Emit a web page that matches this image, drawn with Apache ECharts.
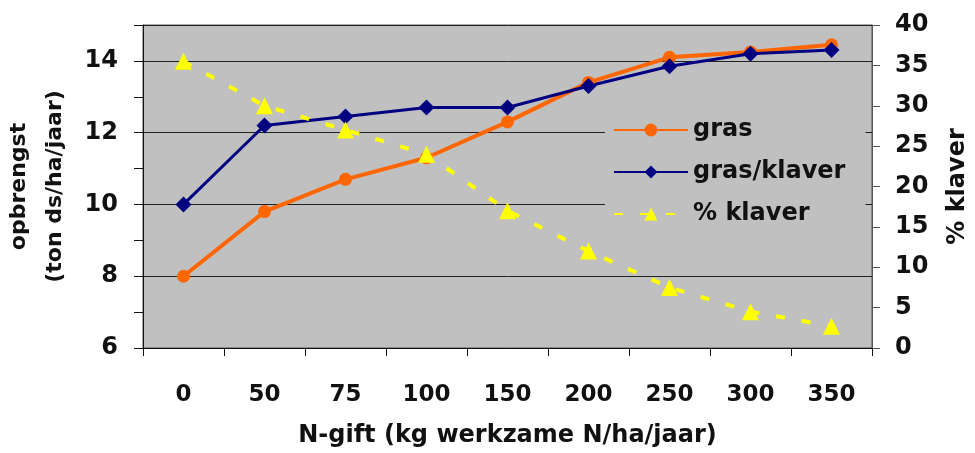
<!DOCTYPE html>
<html>
<head>
<meta charset="utf-8">
<script src="https://cdn.jsdelivr.net/npm/echarts@6/dist/echarts.min.js"></script>
<style>
  html, body { margin: 0; padding: 0; background: #fff; }
  #chart { width: 975px; height: 453px; }
</style>
</head>
<body>
<div id="chart"></div>
<script>
const categories = ["0", "50", "75", "100", "150", "200", "250", "300", "350"];
const gras = [8.0, 9.8, 10.7, 11.3, 12.3, 13.4, 14.1, 14.25, 14.45];
const grasKlaver = [10.0, 12.2, 12.45, 12.7, 12.7, 13.3, 13.85, 14.2, 14.3];
const pctKlaver = [35.5, 30, 27, 24, 17, 12, 7.5, 4.5, 2.7];

const font = "DejaVu Sans, Verdana, sans-serif";
const labelStyle = { fontFamily: font, fontWeight: "bold", fontSize: 24, color: "#111" };

const chart = echarts.init(document.getElementById("chart"));

chart.setOption({
  animation: false,
  grid: {
    left: 143,
    right: 103,
    top: 25,
    bottom: 105,
    containLabel: false,
    outerBoundsMode: "none",
    show: true,
    backgroundColor: "#c0c0c0",
    borderColor: "#555",
    borderWidth: 1,
  },
  legend: {
    orient: "vertical",
    left: 605,
    top: 106,
    padding: [12, 20, 12, 8],
    backgroundColor: "#c0c0c0",
    itemWidth: 74,
    itemHeight: 16,
    itemGap: 18,
    z: 10,
    textStyle: { ...labelStyle, fontSize: 24, lineHeight: 24 },
    data: ["gras", "gras/klaver", "% klaver"],
  },
  xAxis: {
    type: "category",
    data: categories,
    boundaryGap: true,
    name: "N-gift (kg werkzame N/ha/jaar)",
    nameLocation: "middle",
    nameGap: 76,
    nameTextStyle: labelStyle,
    axisLine: { lineStyle: { color: "#111", width: 1 } },
    axisTick: { show: true, length: 8, lineStyle: { color: "#111" } },
    axisLabel: { ...labelStyle, fontSize: 23, margin: 36 },
    splitLine: { show: false },
  },
  yAxis: [
    {
      type: "value",
      position: "left",
      min: 6,
      max: 15,
      interval: 1,
      name: "opbrengst\n(ton ds/ha/jaar)",
      nameLocation: "middle",
      nameRotate: 90,
      nameGap: 49,
      nameTextStyle: { ...labelStyle, fontSize: 22, lineHeight: 36 },
      axisLine: { show: true, lineStyle: { color: "#111" } },
      axisTick: { show: true, length: 9, lineStyle: { color: "#111" } },
      axisLabel: {
        ...labelStyle,
        margin: 25,
        formatter: (v) => (v % 2 === 0 && v < 15 ? String(v) : ""),
      },
      splitLine: { show: false },
    },
    {
      type: "value",
      position: "right",
      min: 0,
      max: 40,
      interval: 5,
      name: "% klaver",
      nameLocation: "middle",
      nameRotate: 90,
      nameGap: 74,
      nameTextStyle: labelStyle,
      axisLine: { show: true, lineStyle: { color: "#555" } },
      axisTick: { show: true, length: 8, lineStyle: { color: "#555" } },
      axisLabel: { ...labelStyle, margin: 23 },
      splitLine: { show: false },
    },
    {
      // gridlines on the even values of the left axis
      type: "value",
      position: "left",
      min: 6,
      max: 15,
      interval: 2,
      axisLine: { show: false },
      axisTick: { show: false },
      axisLabel: { show: false },
      splitLine: { show: true, lineStyle: { color: "#222", width: 1 } },
    },
  ],
  series: [
    {
      name: "gras",
      type: "line",
      yAxisIndex: 0,
      data: gras,
      symbol: "circle",
      symbolSize: 13,
      color: "#ff6600",
      lineStyle: { color: "#ff6600", width: 4 },
      itemStyle: { color: "#ff6600" },
    },
    {
      name: "gras/klaver",
      type: "line",
      yAxisIndex: 0,
      data: grasKlaver,
      symbol: "diamond",
      symbolSize: 16,
      color: "#000080",
      lineStyle: { color: "#000080", width: 3 },
      itemStyle: { color: "#000080" },
    },
    {
      name: "% klaver",
      type: "line",
      yAxisIndex: 1,
      data: pctKlaver,
      symbol: "triangle",
      symbolSize: 17,
      color: "#ffff00",
      lineStyle: { color: "#ffff00", width: 4, type: [9, 17] },
      itemStyle: { color: "#ffff00" },
    },
  ],
});
</script>
</body>
</html>
